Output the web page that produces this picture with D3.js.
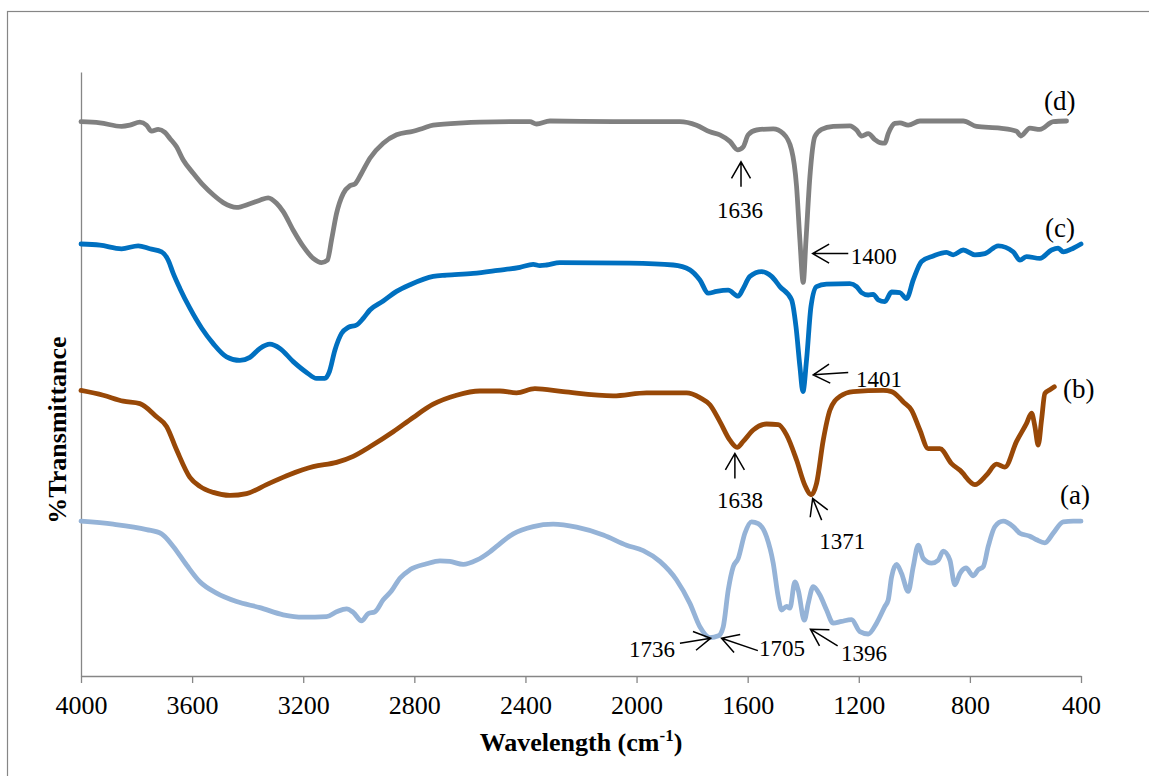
<!DOCTYPE html>
<html>
<head>
<meta charset="utf-8">
<script src="https://cdn.jsdelivr.net/npm/d3@7/dist/d3.min.js"></script>
<style>
  html, body { margin: 0; padding: 0; background: #fff; }
  svg { display: block; }
  text { font-family: "Liberation Serif", "Times New Roman", serif; fill: #000; }
</style>
</head>
<body>
<svg id="chart" width="1149" height="776"></svg>
<script>
// FTIR spectra, offset vertically: [wavenumber (cm-1), %T (offset units)]
const spectrumA = [[4000,25.8],[3884,25.3],[3764,24.4],[3710,23.7],[3668,21.6],[3620,18.5],[3572,15.7],[3512,13.8],[3440,12.4],[3356,11.4],[3272,10.2],[3200,9.8],[3116,9.9],[3080,10.7],[3044,11.2],[3020,10.6],[2990,9.2],[2966,10.4],[2942,10.7],[2912,12.7],[2882,14.2],[2852,16.3],[2816,17.7],[2756,18.7],[2708,19.2],[2672,19.1],[2624,18.6],[2576,19.3],[2528,20.7],[2504,21.6],[2444,23.7],[2372,24.9],[2300,25.3],[2216,24.8],[2120,23.5],[2036,21.8],[1976,20.9],[1916,19.1],[1856,16],[1808,12.1],[1772,8.2],[1736,6.4],[1705,6.7],[1688,8.2],[1670,14.3],[1652,18.2],[1634,19.6],[1610,23.8],[1586,25.7],[1562,25.4],[1532,23.2],[1508,18.8],[1490,13.2],[1478,11],[1460,11.6],[1448,11.3],[1430,15.7],[1418,14.3],[1396,9.3],[1382,12.1],[1364,14.9],[1340,13.5],[1316,11],[1292,8.8],[1262,9.1],[1226,9.4],[1196,7.4],[1166,7],[1136,8.8],[1106,11.6],[1094,12.7],[1082,16.5],[1064,18.6],[1046,17.1],[1022,14.1],[1004,18.2],[986,21.8],[968,19.6],[938,18.8],[914,19.3],[896,20.8],[872,19.3],[854,15.2],[836,17.1],[814,18],[788,16.7],[770,17.7],[752,18.2],[734,21.6],[710,24.9],[680,25.8],[644,24.9],[620,23.8],[584,23.3],[560,22.7],[530,22.2],[500,23.8],[464,25.7],[428,25.8],[400,25.8]];

const spectrumB = [[4000,47.6],[3920,46.8],[3848,45.8],[3788,45.4],[3728,43.2],[3692,41.6],[3656,37.7],[3608,33.1],[3572,31.6],[3524,30.6],[3464,30.1],[3404,30.4],[3332,31.9],[3248,33.6],[3164,34.9],[3080,35.6],[3020,36.6],[2960,38.2],[2876,40.7],[2804,43.1],[2732,45.3],[2648,46.8],[2564,47.5],[2492,47.5],[2432,47.2],[2366,47.9],[2264,47.4],[2084,46.7],[1964,47.2],[1820,47.2],[1772,46.4],[1736,45.2],[1700,42.4],[1664,39.3],[1638,38.1],[1616,39.1],[1580,41],[1532,42],[1490,41.9],[1460,40.2],[1424,36],[1394,31.8],[1371,30.2],[1352,32.1],[1328,39.3],[1304,44.3],[1268,46.6],[1220,47.4],[1112,47.6],[1082,47.4],[1052,46.3],[1040,45.7],[1010,44.3],[980,41],[950,37.9],[908,37.9],[866,35.4],[836,34.3],[782,31.9],[740,33.5],[704,35.3],[674,34.8],[632,39.1],[596,42.1],[578,43.8],[566,41.6],[554,38.5],[542,42.7],[530,47.1],[512,47.7],[496,48.2]];

const spectrumC = [[4000,72],[3932,71.8],[3854,71.2],[3794,71.7],[3752,71.2],[3710,70.7],[3686,69.3],[3668,67.1],[3644,64.6],[3608,61.3],[3566,58],[3524,55.4],[3476,53.2],[3428,52.6],[3392,53.1],[3356,54.6],[3320,55.3],[3284,54.6],[3236,52.4],[3188,50.6],[3152,49.6],[3122,49.6],[3106,50.7],[3086,54.3],[3062,57.1],[3038,58.1],[3008,58.5],[2984,59.6],[2960,61],[2912,62.5],[2864,64.1],[2816,65.2],[2732,66.6],[2684,66.8],[2588,67.1],[2500,67.6],[2420,68.1],[2372,68.6],[2348,68.4],[2324,68.5],[2276,68.9],[2024,68.8],[1868,68.5],[1808,67.7],[1772,66],[1742,63.8],[1712,64.1],[1670,64.3],[1634,63.3],[1616,64.6],[1592,66.6],[1550,67.4],[1514,66.6],[1484,64.9],[1442,62.7],[1426,58.2],[1412,51.6],[1401,47.4],[1388,52.7],[1372,61.6],[1352,64.9],[1316,65.3],[1232,65.4],[1208,64.9],[1190,63.9],[1166,63.5],[1148,63.6],[1130,62.7],[1106,62.4],[1082,64],[1052,63.9],[1028,62.9],[1004,66],[974,69.1],[932,70],[884,70.6],[860,70.2],[824,71],[782,70.2],[746,70.4],[698,71.7],[644,70.7],[620,69.3],[596,69.9],[548,69.6],[506,71],[482,71.3],[464,70.7],[428,71.3],[400,72]];

const spectrumD = [[4000,92.4],[3932,92.2],[3854,91.6],[3824,91.8],[3788,92.3],[3764,91.8],[3746,90.8],[3722,91.1],[3698,90.6],[3680,89.6],[3656,88.2],[3632,86],[3596,83.8],[3560,81.8],[3524,80.2],[3488,78.9],[3440,78.1],[3392,78.7],[3356,79.3],[3326,79.7],[3296,78.8],[3272,77.4],[3236,74.3],[3200,71.6],[3164,69.6],[3134,68.9],[3113,69.3],[3098,72.7],[3080,77.1],[3056,80.4],[3032,81.7],[3014,82],[2990,83.8],[2960,86.3],[2912,88.8],[2864,90.2],[2804,90.8],[2768,91.3],[2732,91.8],[2624,92.2],[2564,92.3],[2384,92.4],[2360,92],[2312,92.5],[2084,92.4],[1844,92.4],[1784,91.8],[1736,90.7],[1700,90.2],[1664,89.1],[1636,87.7],[1616,88.2],[1598,90.2],[1568,91],[1508,91.2],[1472,90.4],[1442,87.7],[1424,81.6],[1412,72.7],[1400,65.6],[1390,72.7],[1376,83.2],[1358,89.9],[1334,91.1],[1292,91.6],[1232,91.7],[1208,91],[1190,90],[1166,90.4],[1142,89.4],[1124,88.9],[1106,88.8],[1094,90.4],[1070,92.1],[1052,92.2],[1022,91.8],[980,92.5],[824,92.5],[776,91.6],[692,91.3],[632,90.8],[617,90],[584,91.3],[548,91.1],[500,92.4],[452,92.5]];

const seriesNames = ["(a)", "(b)", "(c)", "(d)"];
const seriesColors = ["#95B3D7", "#984807", "#0070C0", "#808080"];
const xTicks = [4000, 3600, 3200, 2800, 2400, 2000, 1600, 1200, 800, 400];

// Peak annotations: label text and the point (wavenumber, %T) the arrow tip sits at
const peakLabels = ["1636", "1400", "1401", "1638", "1371", "1736", "1705", "1396"];
const peakTips = [[1624,85.7],[1366,70.4],[1364,50.2],[1646,37.1],[1366,29.6],[1733,6.3],[1694,6.3],[1374,7.8]];

// ---- layout ----
const W = 1149, H = 776;
const plot = { left: 81, right: 1081, top: 72, bottom: 676 };
const svg = d3.select("#chart");

// outer chart-area frame (extends past the right/bottom edge)
svg.append("rect")
  .attr("x", 7.5).attr("y", 11.5)
  .attr("width", 1300).attr("height", 900)
  .attr("fill", "none").attr("stroke", "#868686").attr("stroke-width", 1.2);

const x = d3.scaleLinear().domain([4000, 400]).range([plot.left, plot.right]);
const y = d3.scaleLinear().domain([0, 604 / 6]).range([plot.bottom, plot.top]);

// axes
const xAxis = svg.append("g")
  .attr("transform", `translate(0,${plot.bottom})`)
  .call(d3.axisBottom(x).tickValues(xTicks).tickFormat(d3.format("d"))
    .tickSizeInner(7).tickSizeOuter(0).tickPadding(13));
xAxis.select(".domain").attr("stroke", "#868686").attr("stroke-width", 1.3);
xAxis.selectAll(".tick line").attr("stroke", "#868686").attr("stroke-width", 1.3);
xAxis.selectAll(".tick text")
  .attr("font-family", '"Liberation Serif", "Times New Roman", serif')
  .attr("font-size", 26).attr("fill", "#000");

const yAxis = svg.append("g")
  .attr("transform", `translate(${plot.left},0)`)
  .call(d3.axisLeft(y).tickValues([]).tickSizeOuter(0));
yAxis.select(".domain").attr("stroke", "#868686").attr("stroke-width", 1.3);

// spectra
const line = d3.line()
  .x(d => x(d[0]))
  .y(d => y(d[1]))
  .curve(d3.curveMonotoneX);

const spectra = [spectrumA, spectrumB, spectrumC, spectrumD];
spectra.forEach((s, i) => {
  svg.append("path")
    .datum(s)
    .attr("d", line)
    .attr("fill", "none")
    .attr("stroke", seriesColors[i])
    .attr("stroke-width", 4.8)
    .attr("stroke-linejoin", "round")
    .attr("stroke-linecap", "round");
});

// series labels beside the right end of each trace
const seriesLabelPos = [[1060, 504], [1063, 398], [1045, 237], [1044, 110]];
seriesNames.forEach((n, i) => {
  svg.append("text")
    .attr("x", seriesLabelPos[i][0]).attr("y", seriesLabelPos[i][1])
    .attr("font-size", 27)
    .text(n);
});

// arrow annotations: tail offset and label offset relative to tip (px)
const annLayout = [
  { tail: [0, 25],      text: [-1, 56],      anchor: "middle" },
  { tail: [35.6, 0],    text: [38, 10],      anchor: "start" },
  { tail: [35, -2.3],   text: [42.7, 11.7],  anchor: "start" },
  { tail: [0, 25],      text: [5, 55],       anchor: "middle" },
  { tail: [9, 21.7],    text: [6.6, 51],     anchor: "start" },
  { tail: [-30.8, 5],   text: [-35.6, 19],   anchor: "end" },
  { tail: [36.3, 12.4], text: [37.5, 17.7],  anchor: "start" },
  { tail: [27.2, 16.7], text: [30.6, 31.4],  anchor: "start" }
];

const headLen = 19, headAng = Math.PI / 6;
const ann = svg.append("g");
peakLabels.forEach((lab, i) => {
  const tx = x(peakTips[i][0]), ty = y(peakTips[i][1]);
  const L = annLayout[i];
  const ex = tx + L.tail[0], ey = ty + L.tail[1];
  const a = Math.atan2(ey - ty, ex - tx);
  const h1 = [tx + headLen * Math.cos(a + headAng), ty + headLen * Math.sin(a + headAng)];
  const h2 = [tx + headLen * Math.cos(a - headAng), ty + headLen * Math.sin(a - headAng)];
  ann.append("path")
    .attr("d", `M${ex},${ey}L${tx},${ty}M${h1[0]},${h1[1]}L${tx},${ty}L${h2[0]},${h2[1]}`)
    .attr("fill", "none").attr("stroke", "#000").attr("stroke-width", 1.5);
  ann.append("text")
    .attr("x", tx + L.text[0]).attr("y", ty + L.text[1])
    .attr("text-anchor", L.anchor)
    .attr("font-size", 23)
    .text(lab);
});

// axis titles
const xt = svg.append("text")
  .attr("x", 581).attr("y", 751)
  .attr("text-anchor", "middle")
  .attr("font-size", 26).attr("font-weight", "bold");
xt.append("tspan").text("Wavelength (cm");
xt.append("tspan").attr("dy", -10).attr("font-size", 17).text("-1");
xt.append("tspan").attr("dy", 10).text(")");

svg.append("text")
  .attr("transform", "translate(66,430) rotate(-90)")
  .attr("text-anchor", "middle")
  .attr("font-size", 26).attr("font-weight", "bold")
  .text("%Transmittance");
</script>
</body>
</html>
